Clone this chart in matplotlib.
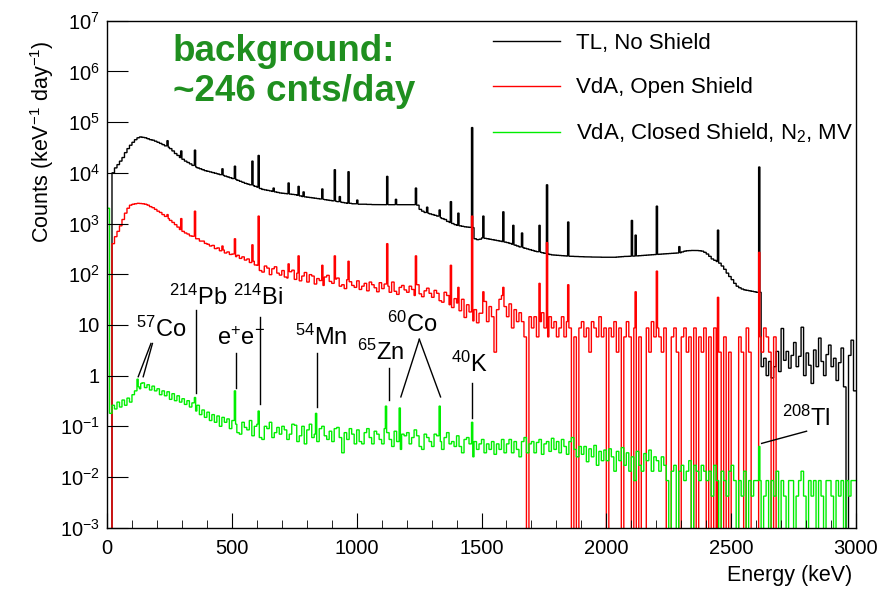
import numpy as np
import matplotlib
matplotlib.use("Agg")
import matplotlib.pyplot as plt
from matplotlib.ticker import FixedLocator, MultipleLocator, NullFormatter, LogLocator

plt.rcParams['font.family'] = ['Liberation Sans', 'DejaVu Sans']
plt.rcParams['mathtext.fontset'] = 'custom'
plt.rcParams['mathtext.rm'] = 'Liberation Sans'
plt.rcParams['mathtext.it'] = 'Liberation Sans:italic'
plt.rcParams['mathtext.bf'] = 'Liberation Sans:bold'
plt.rcParams['mathtext.default'] = 'regular'

# ---- data: continuum in 10 keV bins (counts / keV / day), peaks in 5 keV bins ----
tl_no_shield = [
    0, 0, 1.0e4, 1.25e4, 1.45e4, 1.7e4, 2.0e4, 2.5e4, 3.0e4, 3.5e4,
    4.0e4, 4.5e4, 4.9e4, 5.1e4, 5.0e4, 4.9e4, 4.7e4, 4.5e4, 4.4e4, 4.2e4,
    4.0e4, 3.8e4, 3.6e4, 3.4e4, 3.2e4, 3.0e4, 2.7e4, 2.4e4, 2.2e4, 2.0e4,
    1.85e4, 1.7e4, 1.6e4, 1.5e4, 1.4e4, 1.3e4, 1.25e4, 1.2e4, 1.15e4, 1.1e4,
    1.07e4, 1.04e4, 1.01e4, 9.8e3, 9.5e3, 9.2e3, 8.9e3, 8.6e3, 8.3e3, 8.0e3,
    7.7e3, 7.4e3, 7.1e3, 6.8e3, 6.5e3, 6.2e3, 6.0e3, 5.8e3, 5.6e3, 5.4e3,
    5.2e3, 4.9e3, 4.7e3, 4.6e3, 4.5e3, 4.4e3, 4.3e3, 4.2e3, 4.1e3, 4.0e3,
    3.95e3, 3.9e3, 3.85e3, 3.8e3, 3.75e3, 3.7e3, 3.6e3, 3.5e3, 3.4e3, 3.35e3,
    3.3e3, 3.25e3, 3.2e3, 3.15e3, 3.1e3, 3.05e3, 3.0e3, 2.95e3, 2.9e3, 2.85e3,
    2.8e3, 2.75e3, 2.7e3, 2.65e3, 2.6e3, 2.55e3, 2.5e3, 2.5e3, 2.45e3, 2.45e3,
    2.4e3, 2.4e3, 2.4e3, 2.4e3, 2.38e3, 2.38e3, 2.36e3, 2.36e3, 2.35e3, 2.35e3,
    2.35e3, 2.35e3, 2.35e3, 2.35e3, 2.35e3, 2.35e3, 2.35e3, 2.35e3, 2.35e3, 2.35e3,
    2.35e3, 2.35e3, 2.35e3, 2.35e3, 2.3e3, 1.9e3, 1.75e3, 1.65e3, 1.6e3, 1.55e3,
    1.5e3, 1.45e3, 1.4e3, 1.3e3, 1.25e3, 1.2e3, 1.1e3, 1.05e3, 1.0e3, 950,
    920, 900, 880, 860, 850, 840, 830, 500, 480, 490,
    520, 510, 500, 490, 480, 470, 460, 450, 440, 430,
    420, 405, 390, 375, 360, 345, 335, 325, 315, 305,
    295, 285, 278, 272, 265, 258, 252, 245, 240, 238,
    236, 234, 232, 230, 228, 226, 225, 224, 223, 222,
    221, 220, 220, 219, 218, 218, 217, 217, 216, 216,
    216, 215, 215, 216, 218, 220, 222, 224, 225, 226,
    227, 228, 230, 232, 234, 236, 238, 240, 242, 244,
    246, 248, 250, 252, 254, 256, 258, 260, 262, 265,
    275, 285, 290, 292, 294, 295, 293, 290, 285, 270,
    250, 225, 200, 188, 178, 165, 145, 125, 105, 90,
    78, 66, 58, 54, 51, 49, 48, 47, 46, 45,
    44, 44, 1.5, 2.2, 1.0, 1.9, 0.9, 1.5, 3.0, 1.2,
    8.5, 2.0, 3.0, 1.4, 2.5, 4.5, 1.5, 2.4, 9.0, 1.0,
    2.8, 1.6, 0.7, 3.2, 1.5, 5.5, 1.9, 1.0, 2.6, 4.0,
    1.5, 2.2, 0.8, 1.8, 3.5, 0.6, 0, 2.5, 5.0, 0.5,
]
tl_peaks_e = [240, 295, 352, 463, 511, 583, 609, 665, 727, 768, 785, 860, 911, 934,
              969, 1001, 1120, 1155, 1238, 1281, 1333, 1377, 1408, 1460, 1509, 1588,
              1625, 1661, 1730, 1764, 1847, 2104, 2118, 2204, 2290, 2448, 2614]
tl_peaks_h = [4.3e4, 2.7e4, 2.8e4, 1.2e4, 1.35e4, 1.7e4, 2.2e4, 5.0e3, 6.3e3, 5.4e3, 4.2e3,
              4.8e3, 1.15e4, 3.4e3, 1.05e4, 2.9e3, 8.5e3, 3.0e3, 5.0e3, 2.1e3, 1.85e3,
              2.7e3, 1.6e3, 7.8e4, 1.4e3, 1.7e3, 920, 650, 920, 5.8e3, 1.07e3, 1.15e3,
              590, 2.2e3, 350, 740, 1.3e4]

vda_open = [
    0, 0, 400, 550, 700, 900, 1200, 1600, 2000, 2300,
    2400, 2450, 2500, 2480, 2450, 2400, 2300, 2150, 2050, 1900,
    1750, 1650, 1500, 1380, 1250, 1150, 1050, 950, 850, 760,
    700, 650, 620, 570, 560, 500, 500, 450, 450, 405,
    390, 360, 370, 320, 330, 290, 300, 262, 275, 245,
    250, 222, 236, 205, 220, 190, 200, 170, 180, 152,
    150, 118, 110, 145, 132, 98, 128, 140, 105, 96,
    118, 88, 84, 112, 120, 79, 105, 74, 92, 108,
    70, 98, 92, 64, 82, 75, 60, 88, 95, 72,
    66, 80, 84, 58, 62, 52, 78, 71, 60, 55,
    74, 50, 58, 66, 47, 70, 62, 54, 45, 68,
    52, 64, 58, 44, 70, 46, 40, 55, 60, 49,
    44, 58, 50, 38, 62, 41, 36, 47, 53, 42,
    35, 48, 42, 30, 28, 44, 38, 25, 22, 33,
    27, 19, 32, 14, 25, 18, 12, 20, 11, 17,
    17, 29, 11.6, 23, 14.5, 2.9, 20, 32, 38, 23,
    14.5, 26, 8.7, 20, 11.6, 17.4, 11.6, 5.8, 0, 14.5,
    8.7, 14.5, 5.8, 11.6, 17.4, 8.7, 5.8, 14.5, 8.7, 11.6,
    5.8, 8.7, 14.5, 5.8, 11.6, 8.7, 0, 5.8, 0, 8.7,
    11.6, 5.8, 8.7, 2.9, 11.6, 8.7, 5.8, 14.5, 5.8, 8.7,
    0, 8.7, 5.8, 11.6, 2.9, 8.7, 0, 5.8, 11.6, 5.8,
    0, 8.7, 0, 5.8, 0, 0, 8.7, 2.9, 11.6, 5.8,
    8.7, 5.8, 2.9, 8.7, 0, 0, 5.8, 8.7, 2.9, 0,
    5.8, 8.7, 2.9, 5.8, 0, 8.7, 0, 5.8, 2.9, 8.7,
    0, 5.8, 0, 8.7, 0, 2.9, 0, 5.8, 0, 2.9,
    0, 0, 0, 5.8, 2.9, 0, 8.7, 2.9, 0, 0,
    0, 5.8, 2.9, 8.7, 5.8, 2.9, 0, 5.8, 0,
]
open_peaks_e = [240, 295, 352, 463, 511, 583, 609, 727, 768, 860, 911, 969, 1120, 1238,
                1377, 1408, 1460, 1509, 1588, 1730, 1764, 1847, 2118, 2204, 2448, 2614]
open_peaks_h = [1.5e3, 1.25e3, 1.75e3, 360, 500, 380, 1.4e3, 160, 230, 150, 230, 180, 400,
                230, 150, 55, 1.4e3, 45, 55, 66, 420, 62, 45, 115, 35, 270]

vda_closed = [
    2000, 0.18, 0.26, 0.22, 0.3, 0.24, 0.33, 0.26, 0.36, 0.3,
    0.42, 0.5, 0.6, 0.55, 0.72, 0.58, 0.66, 0.52, 0.62, 0.5,
    0.55, 0.42, 0.5, 0.4, 0.48, 0.34, 0.44, 0.32, 0.4, 0.3,
    0.35, 0.27, 0.32, 0.24, 0.29, 0.2, 0.26, 0.17, 0.21, 0.15,
    0.19, 0.13, 0.17, 0.12, 0.16, 0.1, 0.15, 0.12, 0.14, 0.09,
    0.13, 0.11, 0.075, 0.07, 0.12, 0.095, 0.085, 0.13, 0.065, 0.1,
    0.11, 0.06, 0.055, 0.1, 0.09, 0.12, 0.06, 0.075, 0.095, 0.07,
    0.1, 0.085, 0.055, 0.07, 0.11, 0.105, 0.05, 0.065, 0.1, 0.045,
    0.085, 0.11, 0.06, 0.07, 0.05, 0.09, 0.1, 0.065, 0.055, 0.08,
    0.05, 0.09, 0.095, 0.06, 0.03, 0.075, 0.055, 0.09, 0.07, 0.045,
    0.085, 0.05, 0.045, 0.075, 0.09, 0.06, 0.045, 0.08, 0.07, 0.055,
    0.045, 0.09, 0.075, 0.055, 0.04, 0.08, 0.05, 0.035, 0.07, 0.065,
    0.075, 0.045, 0.06, 0.085, 0.065, 0.04, 0.035, 0.07, 0.06, 0.05,
    0.04, 0.07, 0.065, 0.05, 0.035, 0.06, 0.075, 0.045, 0.05, 0.04,
    0.065, 0.04, 0.03, 0.055, 0.06, 0.045, 0.025, 0.05, 0.035, 0.045,
    0.055, 0.03, 0.045, 0.035, 0.05, 0.028, 0.045, 0.035, 0.055, 0.03,
    0.045, 0.055, 0.03, 0.05, 0.035, 0.025, 0.05, 0.06, 0.03, 0.045,
    0.05, 0.03, 0.048, 0.055, 0.028, 0.045, 0.05, 0.032, 0.058, 0.035,
    0.05, 0.03, 0.055, 0.04, 0.028, 0.05, 0.06, 0.035, 0.025, 0.04,
    0.028, 0.04, 0.02, 0.036, 0.025, 0.042, 0.017, 0.032, 0.021, 0.034,
    0.021, 0.036, 0.025, 0.013, 0.032, 0.021, 0.038, 0.017, 0.03, 0.013,
    0.025, 0.0085, 0.032, 0.017, 0.013, 0.029, 0.021, 0.034, 0.013, 0.025,
    0.021, 0.013, 0.025, 0.017, 0.0085, 0, 0.013, 0.017, 0, 0.013,
    0.017, 0.0085, 0.013, 0.021, 0, 0.017, 0.013, 0.0085, 0.017, 0.013,
    0.0085, 0.013, 0.0042, 0.017, 0.0085, 0, 0.013, 0.0085, 0.0042, 0.013,
    0.017, 0.0085, 0, 0.0085, 0.0042, 0.013, 0, 0.0085, 0.0042, 0.0085,
    0.0085, 0.0085, 0, 0.0042, 0.0085, 0, 0.0085, 0.0042, 0.013, 0,
    0.0085, 0.0042, 0, 0.0085, 0.0085, 0, 0.0042, 0.0085, 0.013, 0.0042,
    0, 0.0085, 0.0042, 0.0085, 0, 0.0085, 0.0042, 0, 0.0085, 0.0085,
    0.0042, 0, 0.0085, 0.0042, 0.0085, 0, 0.0085, 0.0042, 0.0085, 0.0085,
]
closed_peaks_e = [122, 136, 352, 511, 609, 835, 1115, 1173, 1332, 1460, 2614]
closed_peaks_h = [0.85, 0.7, 0.37, 0.5, 0.2, 0.18, 0.25, 0.23, 0.25, 0.12, 0.04]

y_ticks = [1e-3, 1e-2, 1e-1, 1, 10, 1e2, 1e3, 1e4, 1e5, 1e6, 1e7]
y_tick_labels = [r'$10^{-3}$', r'$10^{-2}$', r'$10^{-1}$', '1', '10', r'$10^{2}$',
                 r'$10^{3}$', r'$10^{4}$', r'$10^{5}$', r'$10^{6}$', r'$10^{7}$']


def fine_spectrum(coarse, peaks_e, peaks_h):
    # 10 keV bins split into 5 keV bins so the lines can sit in single bins
    fine = np.repeat(np.asarray(coarse, dtype=float), 2)
    for e, h in zip(peaks_e, peaks_h):
        i = int(e // 5)
        fine[i] = max(fine[i], h)
    fine[fine <= 0] = 1e-6  # empty bins drop below the axis
    edges = np.arange(len(fine) + 1) * 5.0
    return fine, edges


fig = plt.figure(figsize=(8.91, 5.89), dpi=100)
ax = fig.add_axes([107 / 891, 1 - 527.7 / 589, 749 / 891, 507 / 589])

series = [
    (tl_no_shield, tl_peaks_e, tl_peaks_h, 'black', 'TL, No Shield'),
    (vda_open, open_peaks_e, open_peaks_h, '#ff0000', 'VdA, Open Shield'),
    (vda_closed, closed_peaks_e, closed_peaks_h, '#00ee00', r'VdA, Closed Shield, N$_2$, MV'),
]
handles = []
for coarse, pe, ph, col, lab in series:
    vals, edges = fine_spectrum(coarse, pe, ph)
    ax.stairs(vals, edges, color=col, lw=1.0, baseline=None)
    handles.append(plt.Line2D([], [], color=col, lw=1.0, label=lab))

ax.set_yscale('log')
ax.set_xlim(0, 3000)
ax.set_ylim(1e-3, 1e7)

ax.yaxis.set_major_locator(FixedLocator(y_ticks))
ax.set_yticklabels(y_tick_labels)
ax.yaxis.set_minor_locator(LogLocator(base=10, subs=np.arange(2, 10)))
ax.yaxis.set_minor_formatter(NullFormatter())
ax.xaxis.set_major_locator(MultipleLocator(500))
ax.xaxis.set_minor_locator(MultipleLocator(100))

ax.tick_params(which='both', direction='in', top=False, right=False, labelsize=14.5)
ax.tick_params(axis='y', which='major', length=15, pad=5)
ax.tick_params(axis='y', which='minor', length=8)
ax.tick_params(axis='x', which='major', length=11, pad=8)
ax.tick_params(axis='x', which='minor', length=6)
for s in ax.spines.values():
    s.set_linewidth(1.0)

fig.text(42 / 891, 1 - 40 / 589, r'Counts (keV$^{-1}$ day$^{-1}$)', rotation=90,
         ha='center', va='top', fontsize=15.5)
fig.text(852 / 891, 1 - 576 / 589, 'Energy (keV)', ha='right', va='center', fontsize=15.5)

green_txt = '#1f8f1f'
fig.text(173 / 891, 1 - 61 / 589, 'background:', color=green_txt, fontsize=26.5,
         fontweight='bold', va='baseline')
fig.text(173 / 891, 1 - 101 / 589, '~246 cnts/day', color=green_txt, fontsize=26.5,
         fontweight='bold', va='baseline')

ax.legend(handles=handles, loc='upper left', bbox_to_anchor=(493 / 891, 1 - 33 / 589),
          bbox_transform=fig.transFigure, frameon=False, fontsize=16, handlelength=3.0,
          handletextpad=0.75, labelspacing=1.05, borderpad=0, borderaxespad=0)

# peak labels
lab_fs = 17
labels = [
    (116, 5.85, r'$^{57}$Co'),
    (248, 24.6, r'$^{214}$Pb'),
    (503, 24.6, r'$^{214}$Bi'),
    (440, 4.0, r'e$^{+}$e$^{-}$'),
    (753, 4.0, r'$^{54}$Mn'),
    (1000, 2.04, r'$^{65}$Zn'),
    (1121, 7.35, r'$^{60}$Co'),
    (1376, 1.17, r'$^{40}$K'),
    (2703, 0.1, r'$^{208}$Tl'),
]
for e, v, t in labels:
    ax.text(e, v, t, fontsize=lab_fs, ha='left', va='baseline')

pointers = [
    ([176, 125], [4.3, 0.95]),
    ([182, 145], [4.3, 0.95]),
    ([356, 356], [19.5, 0.45]),
    ([614, 614], [14, 0.28]),
    ([515, 515], [2.75, 0.56]),
    ([840, 840], [2.75, 0.24]),
    ([1128, 1128], [1.4, 0.33]),
    ([1251, 1177], [5.2, 0.38]),
    ([1251, 1336], [5.2, 0.38]),
    ([1463, 1463], [0.71, 0.144]),
    ([2802, 2622], [0.08, 0.046]),
]
for xs, ys in pointers:
    ax.plot(xs, ys, color='black', lw=1.0)

fig.savefig('out.png', dpi=100)
